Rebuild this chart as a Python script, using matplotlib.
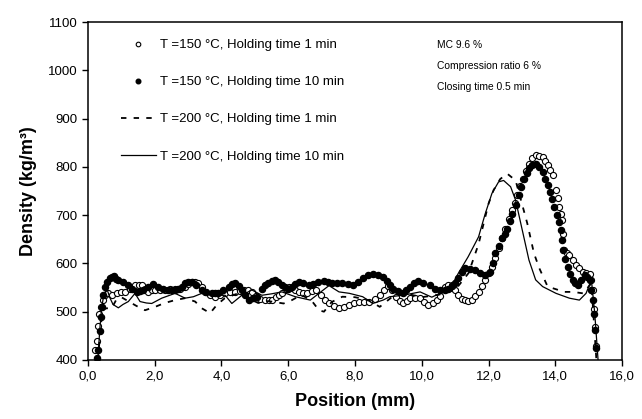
import matplotlib
matplotlib.use("Agg")
from matplotlib import pyplot as plt

# T=150 C, holding 1 min (open circles)
pos_150_1 = [0.22, 0.26, 0.30, 0.34, 0.38, 0.45, 0.52, 0.61, 0.72, 0.86, 0.98, 1.11, 1.25, 1.41, 1.52, 1.61, 1.72, 1.81,
             1.92, 2.01, 2.15, 2.31, 2.45, 2.61, 2.75, 2.91, 3.01, 3.11, 3.21, 3.31, 3.41, 3.51, 3.65, 3.81, 3.95, 4.11,
             4.25, 4.41, 4.55, 4.66, 4.78, 4.91, 5.03, 5.16, 5.30, 5.41, 5.50, 5.62, 5.71, 5.81, 5.92, 6.01, 6.12, 6.21,
             6.31, 6.45, 6.56, 6.70, 6.82, 6.97, 7.10, 7.22, 7.37, 7.52, 7.67, 7.83, 7.98, 8.13, 8.28, 8.43, 8.60, 8.74,
             8.88, 8.99, 9.12, 9.24, 9.35, 9.44, 9.55, 9.64, 9.80, 9.95, 10.08, 10.20, 10.33, 10.45, 10.55, 10.69, 10.79,
             10.89, 10.99, 11.09, 11.19, 11.29, 11.39, 11.49, 11.60, 11.70, 11.80, 11.90, 12.00, 12.10, 12.20, 12.30,
             12.40, 12.50, 12.60, 12.71, 12.78, 12.86, 12.95, 13.03, 13.12, 13.21, 13.31, 13.41, 13.52, 13.62, 13.70,
             13.77, 13.85, 13.92, 14.02, 14.07, 14.12, 14.17, 14.20, 14.24, 14.27, 14.35, 14.42, 14.52, 14.62, 14.72,
             14.82, 14.92, 15.03, 15.08, 15.13, 15.16, 15.18, 15.23]
dens_150_1 = [420, 440, 470, 495, 510, 525, 535, 538, 535, 538, 540, 541, 548, 555, 556, 555, 548, 541,
              544, 545, 545, 545, 546, 546, 548, 552, 558, 562, 562, 560, 552, 541, 535, 531, 534, 538,
              540, 541, 543, 545, 545, 541, 533, 526, 525, 525, 525, 530, 535, 539, 546, 552, 549, 545,
              541, 538, 538, 542, 545, 534, 525, 517, 511, 507, 510, 514, 517, 521, 521, 521, 526, 534,
              545, 553, 545, 531, 522, 517, 522, 528, 529, 528, 520, 514, 518, 524, 532, 552, 555,
              555, 545, 534, 527, 524, 523, 524, 532, 541, 553, 566, 580, 593, 612, 631,
              652, 672, 692, 710, 726, 741, 760, 776, 792, 807, 818, 824, 823, 821, 812,
              803, 793, 783, 752, 735, 717, 703, 690, 660, 628, 622, 617, 607, 597, 590,
              583, 580, 579, 565, 545, 505, 469, 428]

# T=150 C, holding 10 min (filled circles)
pos_150_10 = [0.28, 0.31, 0.35, 0.38, 0.41, 0.46, 0.51, 0.58, 0.66, 0.72, 0.79, 0.85, 0.91, 1.05, 1.21, 1.33, 1.46, 1.56,
              1.66, 1.80, 1.96, 2.10, 2.26, 2.40, 2.51, 2.61, 2.71, 2.81, 2.91, 3.01, 3.11, 3.25, 3.41, 3.55, 3.71, 3.81,
              3.91, 4.05, 4.21, 4.31, 4.41, 4.51, 4.61, 4.71, 4.81, 4.93, 5.06, 5.20, 5.30, 5.40, 5.50, 5.60, 5.70, 5.80,
              5.90, 6.00, 6.10, 6.20, 6.31, 6.45, 6.61, 6.75, 6.90, 7.07, 7.20, 7.32, 7.47, 7.62, 7.78, 7.93, 8.08, 8.23,
              8.38, 8.53, 8.68, 8.84, 8.95, 9.04, 9.14, 9.30, 9.44, 9.54, 9.64, 9.77, 9.90, 10.05, 10.25, 10.40, 10.55,
              10.69, 10.79, 10.89, 10.99, 11.09, 11.19, 11.29, 11.45, 11.60, 11.75, 11.90, 12.05, 12.12, 12.20, 12.30,
              12.40, 12.48, 12.56, 12.64, 12.71, 12.81, 12.91, 12.98, 13.06, 13.14, 13.21, 13.31, 13.41, 13.52, 13.62,
              13.70, 13.77, 13.84, 13.90, 13.97, 14.04, 14.10, 14.17, 14.20, 14.24, 14.30, 14.37, 14.45, 14.53, 14.60,
              14.68, 14.78, 14.88, 14.96, 15.03, 15.08, 15.13, 15.16, 15.18, 15.23]
dens_150_10 = [405, 420, 460, 490, 510, 535, 552, 562, 569, 572, 574, 568, 565, 562, 555, 548, 541, 543,
               545, 552, 557, 552, 546, 545, 545, 545, 546, 552, 559, 561, 562, 555, 545, 540, 538, 538,
               539, 545, 552, 557, 559, 553, 545, 535, 524, 528, 531, 548, 555, 560, 564, 566, 562, 555,
               551, 548, 552, 558, 562, 559, 555, 558, 562, 564, 562, 560, 560, 560, 557, 555, 562, 569,
               575, 578, 576, 572, 563, 555, 548, 542, 539, 544, 552, 559, 564, 560, 555, 548, 545,
               545, 548, 553, 559, 570, 582, 590, 588, 586, 580, 576, 583, 600, 621, 637,
               652, 662, 672, 688, 703, 722, 741, 758, 776, 787, 797, 803, 807, 799, 790,
               776, 762, 748, 734, 717, 700, 685, 669, 648, 628, 610, 593, 578, 566, 560,
               555, 565, 576, 572, 566, 545, 524, 495, 462, 424]

# T=200 C, holding 1 min (dashed)
pos_200_1 = [0.30, 0.38, 0.45, 0.56, 0.71, 0.85, 1.00, 1.20, 1.45, 1.71, 2.01, 2.30, 2.61, 2.91, 3.21, 3.41, 3.66, 3.86,
             4.10, 4.50, 4.80, 5.10, 5.40, 5.86, 6.11, 6.40, 6.72, 6.92, 7.07, 7.30, 7.62, 8.00, 8.40, 8.74, 9.10, 9.50,
             10.00, 10.50, 11.00, 11.40, 11.70, 12.00, 12.15, 12.35, 12.56, 12.81, 12.96, 13.16, 13.36, 13.52, 13.77,
             14.27, 14.53, 14.83, 15.08, 15.23]
dens_200_1 = [400, 470, 505, 507, 507, 525, 530, 522, 512, 503, 510, 518, 524, 528, 521, 507, 497, 514,
              528, 538, 528, 518, 522, 517, 524, 535, 521, 503, 500, 520, 531, 530, 524, 510, 530, 538,
              530, 535, 545, 580, 640, 724, 752, 775, 786, 772, 734, 683, 621, 590, 552,
              541, 541, 538, 559, 400]

# T=200 C, holding 10 min (solid)
pos_200_10 = [0.30, 0.35, 0.40, 0.45, 0.51, 0.58, 0.65, 0.75, 0.91, 1.05, 1.21, 1.41, 1.48, 1.56, 1.75, 1.91, 2.21, 2.61,
              2.91, 3.16, 3.41, 3.71, 4.11, 4.31, 4.61, 4.91, 5.21, 5.50, 5.81, 6.21, 6.66, 6.92, 7.22, 7.52, 7.83, 8.23,
              8.53, 8.84, 9.04, 9.44, 9.95, 10.30, 10.60, 10.85, 11.09, 11.39, 11.70, 11.90, 12.10, 12.30, 12.45, 12.66,
              12.81, 13.01, 13.21, 13.41, 13.62, 14.02, 14.42, 14.72, 14.92, 15.08, 15.18, 15.28]
dens_200_10 = [400, 460, 500, 525, 541, 545, 530, 515, 508, 515, 521, 538, 530, 521, 518, 517, 528, 538,
               528, 531, 538, 534, 534, 517, 534, 545, 534, 537, 541, 531, 524, 538, 554, 541, 538, 531,
               517, 524, 531, 534, 541, 530, 540, 548, 579, 614, 655, 703, 745, 769, 772, 759,
               731, 669, 607, 566, 552, 538, 528, 524, 538, 566, 497, 400]

labels = ["T =150 \u00b0C, Holding time 1 min", "T =150 \u00b0C, Holding time 10 min",
          "T =200 \u00b0C, Holding time 1 min", "T =200 \u00b0C, Holding time 10 min"]
notes = ["MC 9.6 %", "Compression ratio 6 %", "Closing time 0.5 min"]
x_ticks = [0, 2, 4, 6, 8, 10, 12, 14, 16]
y_ticks = [400, 500, 600, 700, 800, 900, 1000, 1100]

plt.rcParams['font.family'] = ['Liberation Sans', 'DejaVu Sans']

fig = plt.figure(figsize=(6.42, 4.19), dpi=100)
ax = fig.add_axes([0.137, 0.141, 0.832, 0.806])

ax.plot(pos_150_1, dens_150_1, linestyle='none', marker='o', markersize=4.4,
        markerfacecolor='white', markeredgecolor='black', markeredgewidth=0.8, label=labels[0])
ax.plot(pos_150_10, dens_150_10, linestyle='none', marker='o', markersize=4.4,
        color='black', label=labels[1])
ax.plot(pos_200_1, dens_200_1, linestyle=(0, (3, 4)), color='black', linewidth=1.3, label=labels[2])
ax.plot(pos_200_10, dens_200_10, linestyle='-', color='black', linewidth=0.9, label=labels[3])

ax.set_xlim(0, 16)
ax.set_ylim(400, 1100)
ax.set_xticks(x_ticks)
ax.set_xticklabels([f"{t:.1f}".replace('.', ',') for t in x_ticks], fontsize=9.5)
ax.set_yticks(y_ticks)
ax.set_yticklabels([str(t) for t in y_ticks], fontsize=9.5)
ax.tick_params(direction='out', length=4, width=1)
for sp in ax.spines.values():
    sp.set_linewidth(1.1)

ax.set_xlabel('Position (mm)', fontsize=13, fontweight='bold', labelpad=8)
ax.set_ylabel('Density (kg/m\u00b3)', fontsize=13, fontweight='bold', labelpad=8)

leg = ax.legend(loc='upper left', bbox_to_anchor=(0.04, 0.985), frameon=False, fontsize=9.5,
                labelspacing=1.88, handlelength=2.6, handletextpad=0.35, markerscale=0.75)

for i, note in enumerate(notes):
    ax.text(0.654, 0.932 - i * 0.062, note, transform=ax.transAxes, fontsize=7.4, va='center')

fig.savefig('out.png', dpi=100)
